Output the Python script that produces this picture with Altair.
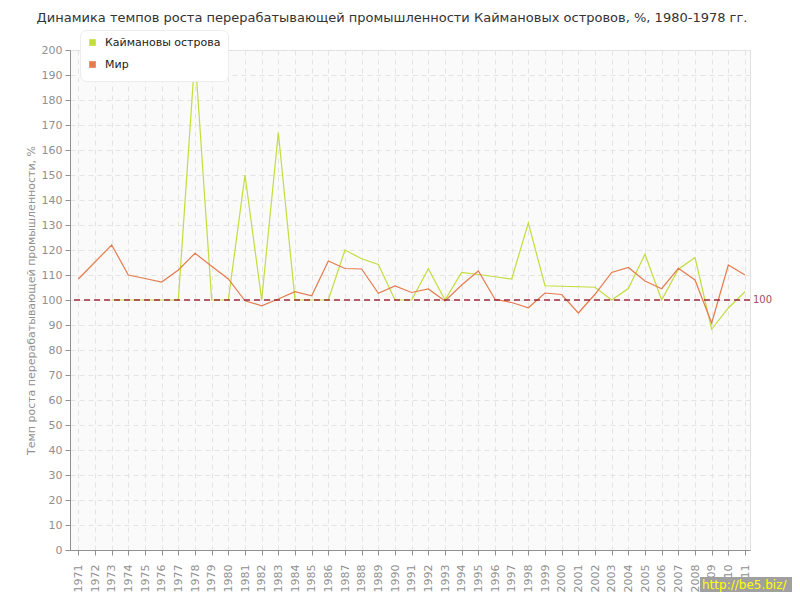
import altair as alt
import pandas as pd

years = list(range(1971, 2012))
series_names = ["Каймановы острова", "Мир"]
cayman = [None, None, 100, 100, 100, 100, 100, 198, 100, 100, 150, 100, 167, 100, 100, 100,
          120, 116.5, 114.2, 100, 100, 112.5, 100, 111, 110.2, 109.3, 108.4, 130.8, 105.7,
          105.5, 105.3, 105.1, 100, 104.6, 118.3, 100, 112.3, 117, 88.3, 96.8, 103.3]
world = [108.4, 115.2, 122, 110, 108.6, 107.2, 112, 118.7, 113.5, 108.4, 99.7, 97.7, 100.4,
         103.3, 101.7, 115.6, 112.6, 112.4, 102.7, 105.6, 103, 104.4, 99.6, 106, 111.6, 100.3,
         99, 96.9, 102.8, 102.2, 94.8, 102.3, 111, 113, 107.6, 104.5, 112.7, 108, 90.8, 114, 110]
y_ticks = list(range(0, 201, 10))
ref_value = [100]
ref_label = ["100"]
watermark = ["http://be5.biz/"]
colors = ["#c2dd3c", "#e57b4e"]

rows = []
for name, vals in zip(series_names, [cayman, world]):
    for yr, v in zip(years, vals):
        if v is not None:
            rows.append({"year": yr, "value": v, "series": name})
df = pd.DataFrame(rows)

FONT = "DejaVu Sans"

y_scale = alt.Scale(domain=[0, 200], nice=False)
y_axis = alt.Axis(values=y_ticks, title="Темп роста перерабатывающей промышленности, %",
                  titlePadding=5, tickSize=5, labelPadding=3, labelOverlap=False,
                  tickCount=21)

x_enc = alt.X("year:Q",
              scale=alt.Scale(domain=[1970.5, 2011.3], nice=False, zero=False),
              axis=alt.Axis(values=years, labelAngle=270, format="d", title=None,
                            labelPadding=9, tickSize=5, labelOverlap=False))

lines = alt.Chart(df).mark_line(strokeWidth=1.2).encode(
    x=x_enc,
    y=alt.Y("value:Q", scale=y_scale, axis=y_axis),
    color=alt.Color("series:N",
                    scale=alt.Scale(domain=series_names, range=colors),
                    sort=series_names,
                    legend=alt.Legend(title=None, orient="none", legendX=10, legendY=-20,
                                      fillColor="white", strokeColor="#ececec",
                                      cornerRadius=6, padding=7, symbolType="square",
                                      symbolSize=10, symbolStrokeWidth=3.5,
                                      labelFont=FONT, labelFontSize=11, labelColor="#222",
                                      labelOffset=7, rowPadding=3)),
)

ref_df = pd.DataFrame({"value": ref_value, "t": ref_label})
rule = alt.Chart(ref_df).mark_rule(color="#9e2a3a", strokeDash=[6, 4], strokeWidth=1.3).encode(
    y=alt.Y("value:Q", scale=y_scale, axis=y_axis))
ref_text = alt.Chart(ref_df).mark_text(align="left", baseline="middle", dx=3, color="#a0506a",
                                       fontSize=10, font=FONT).encode(
    y=alt.Y("value:Q", scale=y_scale, axis=y_axis), x=alt.value(680), text="t:N")

wm_df = pd.DataFrame({"t": watermark})
wm_rect = alt.Chart(wm_df).mark_rect(color="#a0a0a0").encode(
    x=alt.value(630), x2=alt.value(722), y=alt.value(527), y2=alt.value(542))
wm_text = alt.Chart(wm_df).mark_text(align="left", baseline="middle", color="#ffff00",
                                     fontSize=12, font=FONT).encode(
    x=alt.value(632), y=alt.value(535), text="t:N")

chart = alt.layer(lines, rule, ref_text, wm_rect, wm_text).properties(
    width=680, height=500,
    autosize="none",
    padding={"left": 62, "top": 42, "right": 42, "bottom": 42},
    title=alt.TitleParams("Динамика темпов роста перерабатывающей промышленности Каймановых островов, %, 1980-1978 гг.",
                          fontSize=13, font=FONT, fontWeight="normal", color="#333",
                          anchor="middle", dx=-18, offset=5),
).configure_view(
    fill="#fafafa", stroke="#e0e0e0"
).configure_axis(
    labelFont=FONT, labelFontSize=11, labelColor="#909090",
    titleFont=FONT, titleFontSize=11, titleColor="#909090", titleFontWeight="normal",
    domainColor="#909090", tickColor="#909090",
    gridColor="#e4e4e4", gridDash=[5, 4], grid=True,
)

chart.save("out.html", embed_options={"renderer": "svg", "actions": False})
